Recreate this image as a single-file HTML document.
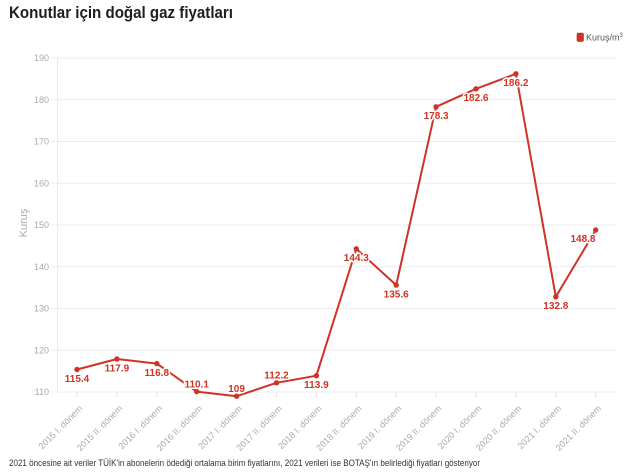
<!DOCTYPE html>
<html><head><meta charset="utf-8"><style>
html,body{margin:0;padding:0;background:#fff;}
svg{display:block;}
text{font-family:"Liberation Sans",sans-serif;}
</style></head><body>
<svg width="640" height="474" viewBox="0 0 640 474" xmlns="http://www.w3.org/2000/svg">
<rect width="640" height="474" fill="#fff"/>
<text x="9" y="18" font-size="17" font-weight="bold" fill="#1e1e1e" textLength="224" lengthAdjust="spacingAndGlyphs">Konutlar için doğal gaz fiyatları</text>
<rect x="577" y="33" width="6.5" height="8.5" rx="1.5" fill="#d03325" stroke="#b52a1d" stroke-width="0.6"/>
<text x="586" y="40.5" font-size="9" fill="#555">Kuruş/m<tspan font-size="6" dy="-3.5">3</tspan></text>
<g stroke="#ececec" stroke-width="1">
<line x1="57" y1="58" x2="615.6" y2="58"/>
<line x1="57" y1="99.75" x2="615.6" y2="99.75"/>
<line x1="57" y1="141.5" x2="615.6" y2="141.5"/>
<line x1="57" y1="183.25" x2="615.6" y2="183.25"/>
<line x1="57" y1="225" x2="615.6" y2="225"/>
<line x1="57" y1="266.75" x2="615.6" y2="266.75"/>
<line x1="57" y1="308.5" x2="615.6" y2="308.5"/>
<line x1="57" y1="350.25" x2="615.6" y2="350.25"/>
<line x1="57" y1="392" x2="615.6" y2="392"/>
<line x1="57.5" y1="58" x2="57.5" y2="392"/>
<line x1="51" y1="58" x2="57" y2="58"/>
<line x1="51" y1="99.75" x2="57" y2="99.75"/>
<line x1="51" y1="141.5" x2="57" y2="141.5"/>
<line x1="51" y1="183.25" x2="57" y2="183.25"/>
<line x1="51" y1="225" x2="57" y2="225"/>
<line x1="51" y1="266.75" x2="57" y2="266.75"/>
<line x1="51" y1="308.5" x2="57" y2="308.5"/>
<line x1="51" y1="350.25" x2="57" y2="350.25"/>
<line x1="51" y1="392" x2="57" y2="392"/>
</g>
<g stroke="#e2e2e2" stroke-width="1">
<line x1="77" y1="392" x2="77" y2="397"/>
<line x1="116.9" y1="392" x2="116.9" y2="397"/>
<line x1="156.8" y1="392" x2="156.8" y2="397"/>
<line x1="196.7" y1="392" x2="196.7" y2="397"/>
<line x1="236.6" y1="392" x2="236.6" y2="397"/>
<line x1="276.5" y1="392" x2="276.5" y2="397"/>
<line x1="316.4" y1="392" x2="316.4" y2="397"/>
<line x1="356.3" y1="392" x2="356.3" y2="397"/>
<line x1="396.2" y1="392" x2="396.2" y2="397"/>
<line x1="436.1" y1="392" x2="436.1" y2="397"/>
<line x1="476" y1="392" x2="476" y2="397"/>
<line x1="515.9" y1="392" x2="515.9" y2="397"/>
<line x1="555.8" y1="392" x2="555.8" y2="397"/>
<line x1="595.7" y1="392" x2="595.7" y2="397"/>
</g>
<g font-size="9" fill="#aaa" text-anchor="end">
<text x="49" y="61">190</text>
<text x="49" y="102.75">180</text>
<text x="49" y="144.5">170</text>
<text x="49" y="186.25">160</text>
<text x="49" y="228">150</text>
<text x="49" y="269.75">140</text>
<text x="49" y="311.5">130</text>
<text x="49" y="353.25">120</text>
<text x="49" y="395">110</text>
</g>
<text x="0" y="0" font-size="11" fill="#aaa" text-anchor="middle" transform="translate(27,223) rotate(-90)">Kuruş</text>
<g font-size="9" fill="#aaa" text-anchor="end">
<text transform="translate(83,409) rotate(-45)">2015 I. dönem</text>
<text transform="translate(122.9,409) rotate(-45)">2015 II. dönem</text>
<text transform="translate(162.8,409) rotate(-45)">2016 I. dönem</text>
<text transform="translate(202.7,409) rotate(-45)">2016 II. dönem</text>
<text transform="translate(242.6,409) rotate(-45)">2017 I. dönem</text>
<text transform="translate(282.5,409) rotate(-45)">2017 II. dönem</text>
<text transform="translate(322.4,409) rotate(-45)">2018 I. dönem</text>
<text transform="translate(362.3,409) rotate(-45)">2018 II. dönem</text>
<text transform="translate(402.2,409) rotate(-45)">2019 I. dönem</text>
<text transform="translate(442.1,409) rotate(-45)">2019 II. dönem</text>
<text transform="translate(482,409) rotate(-45)">2020 I. dönem</text>
<text transform="translate(521.9,409) rotate(-45)">2020 II. dönem</text>
<text transform="translate(561.8,409) rotate(-45)">2021 I. dönem</text>
<text transform="translate(601.7,409) rotate(-45)">2021 II. dönem</text>
</g>
<polyline fill="none" stroke="#d03325" stroke-width="2" stroke-linejoin="round" points="77,369.5 116.9,359 156.8,363.6 196.7,391.6 236.6,396.2 276.5,382.8 316.4,375.7 356.3,248.8 396.2,285.1 436.1,106.8 476,88.8 515.9,73.8 555.8,296.8 595.7,230"/>
<g fill="#d03325">
<circle cx="77" cy="369.5" r="2.7"/>
<circle cx="116.9" cy="359" r="2.7"/>
<circle cx="156.8" cy="363.6" r="2.7"/>
<circle cx="196.7" cy="391.6" r="2.7"/>
<circle cx="236.6" cy="396.2" r="2.7"/>
<circle cx="276.5" cy="382.8" r="2.7"/>
<circle cx="316.4" cy="375.7" r="2.7"/>
<circle cx="356.3" cy="248.8" r="2.7"/>
<circle cx="396.2" cy="285.1" r="2.7"/>
<circle cx="436.1" cy="106.8" r="2.7"/>
<circle cx="476" cy="88.8" r="2.7"/>
<circle cx="515.9" cy="73.8" r="2.7"/>
<circle cx="555.8" cy="296.8" r="2.7"/>
<circle cx="595.7" cy="230" r="2.7"/>
</g>
<g font-size="10" font-weight="bold" fill="#d03325" text-anchor="middle" stroke="#fff" stroke-width="3" paint-order="stroke" stroke-linejoin="round">
<text x="77" y="382">115.4</text>
<text x="116.9" y="371.5">117.9</text>
<text x="156.8" y="376">116.8</text>
<text x="196.7" y="387.5">110.1</text>
<text x="236.6" y="391.8">109</text>
<text x="276.5" y="378.5">112.2</text>
<text x="316.4" y="388">113.9</text>
<text x="356.3" y="261">144.3</text>
<text x="396.2" y="297.5">135.6</text>
<text x="436.1" y="119">178.3</text>
<text x="476" y="101">182.6</text>
<text x="515.9" y="86">186.2</text>
<text x="555.8" y="309">132.8</text>
<text x="595.5" y="242" text-anchor="end">148.8</text>
</g>
<text x="9" y="466" font-size="9.5" fill="#333" textLength="471" lengthAdjust="spacingAndGlyphs">2021 öncesine ait veriler TÜİK'in abonelerin ödediği ortalama birim fiyatlarını, 2021 verileri ise BOTAŞ'ın belirlediği fiyatları gösteriyor</text>
</svg>
</body></html>
